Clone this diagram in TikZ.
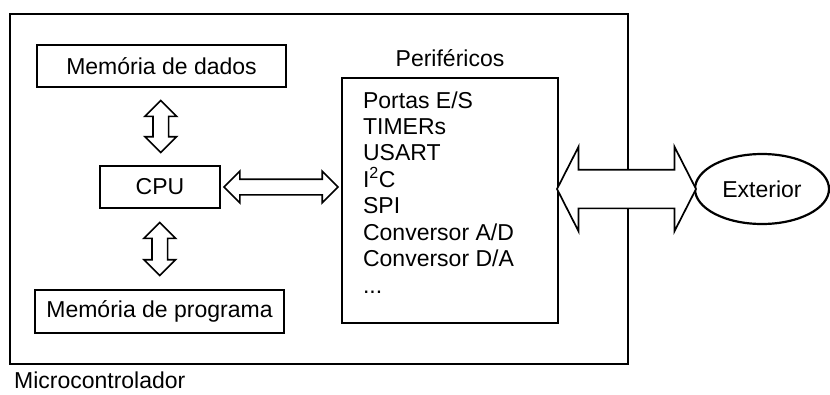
\documentclass[tikz,border=0pt]{standalone}
\usepackage{fontspec}
\setmainfont{Liberation Sans}
\usetikzlibrary{shapes.arrows,shapes.geometric,positioning,calc}

\begin{document}
\begin{tikzpicture}
[x=1pt,y=-1pt,line width=2.2pt,
 caixa/.style={draw,inner sep=0pt},
 seta/.style={draw,fill=white,line width=1.7pt,double arrow,double arrow head extend=8pt,
   inner xsep=0pt,inner ysep=7pt}]
\fontsize{23}{26}\selectfont
\useasboundingbox (0,0) rectangle (830,394);
\node[caixa,minimum width=618,minimum height=350] (micro) at (319,189) {};
\node[anchor=base west,inner sep=0pt] (microlbl) at (13,388) {Microcontrolador};
\node[caixa,minimum width=249,minimum height=42] (dados) at (161.5,66) {Memória de dados};
\node[caixa,minimum width=120,minimum height=42] (cpu) at (160,187) {CPU};
\node[caixa,minimum width=249,minimum height=43] (programa) at (159.5,311.5) {Memória de programa};
\node[caixa,minimum width=216,minimum height=245] (perif) at (450,200.5) {};
\node[above=9pt of perif,inner sep=0pt] (periflbl) {Periféricos};
\foreach \t [count=\i] in {Portas E/S,TIMERs,USART,I\textsuperscript{2}C,SPI,Conversor A/D,Conversor D/A}
  \node[anchor=base west,inner sep=0pt] (p\i) at (362,{108+26.4*(\i-1)}) {\t};
\node[anchor=base west,inner sep=0pt] (p8) at (362,293) {...};
\node[draw,ellipse,minimum width=134,minimum height=70,inner sep=0pt] (ext) at (762,189) {Exterior};
% setas
\node[seta,rotate=90,minimum height=52] (s1) at ($(dados.south)!0.5!(cpu.north)$) {};
\node[seta,rotate=90,minimum height=53] (s2) at ($(cpu.south)!0.5!(programa.north)$) {};
\node[seta,minimum height=114] (s3) at ($(cpu.east)!0.5!(perif.west |- cpu.east)$) {};
\node[seta,minimum height=139,inner ysep=18.5pt,double arrow head extend=23pt,
  double arrow tip angle=126] (s4) at ($(perif.east |- ext.west)!0.5!(ext.west)$) {};
\end{tikzpicture}
\end{document}
